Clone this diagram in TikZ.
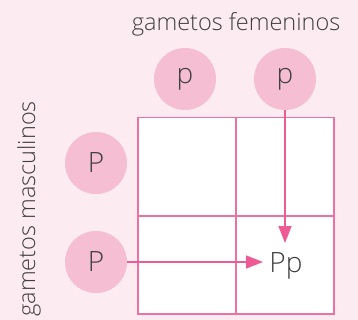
\documentclass[tikz,border=0pt]{standalone}
\usepackage{fontspec}
\setmainfont{Open Sans Light}
\usetikzlibrary{arrows.meta}
\definecolor{bg}{HTML}{FCEBF0}
\definecolor{gridc}{HTML}{F070A2}
\definecolor{circc}{HTML}{F5BED2}
\definecolor{arrc}{HTML}{EE5B94}
\definecolor{txt}{HTML}{404040}
\tikzset{
  gam/.style={circle, fill=circc, minimum size=62pt, inner sep=0pt, text=txt, font=\fontsize{28}{28}\selectfont},
  cellbox/.style={draw=gridc, line width=1.2pt, fill=white, minimum size=98pt, inner sep=0pt},
  conn/.style={draw=arrc, line width=1.6pt, -{Triangle[length=17pt,width=13pt]}},
  lbl/.style={text=txt, font=\fontsize{23.5}{23.5}\selectfont}
}
\begin{document}
\begin{tikzpicture}[x=1pt,y=-1pt]
\fill[bg] (0,0) rectangle (358,320);
\useasboundingbox (0,0) rectangle (358,320);
\node[cellbox] (c11) at (187,166.5) {};
\node[cellbox] (c12) at (285,166.5) {};
\node[cellbox] (c21) at (187,265) {};
\node[cellbox] (c22) at (285,265) {};
\node[lbl] (tf) at (236,24) {gametos femeninos};
\node[lbl, rotate=90] (tm) at (29,209) {gametos masculinos};
\node[gam] (f1) at (185,79) {p};
\node[gam] (f2) at (285,79) {p};
\node[gam] (m1) at (96,163) {P};
\node[gam] (m2) at (96,262) {P};
\node[text=txt, font=\fontsize{28}{28}\selectfont] (pp) at (286,266) {Pp};
\coordinate (ve) at (285,243);
\coordinate (he) at (263,262);
\draw[conn] (f2.south) -- (ve);
\draw[conn] (m2.east) -- (he);
\end{tikzpicture}
\end{document}
